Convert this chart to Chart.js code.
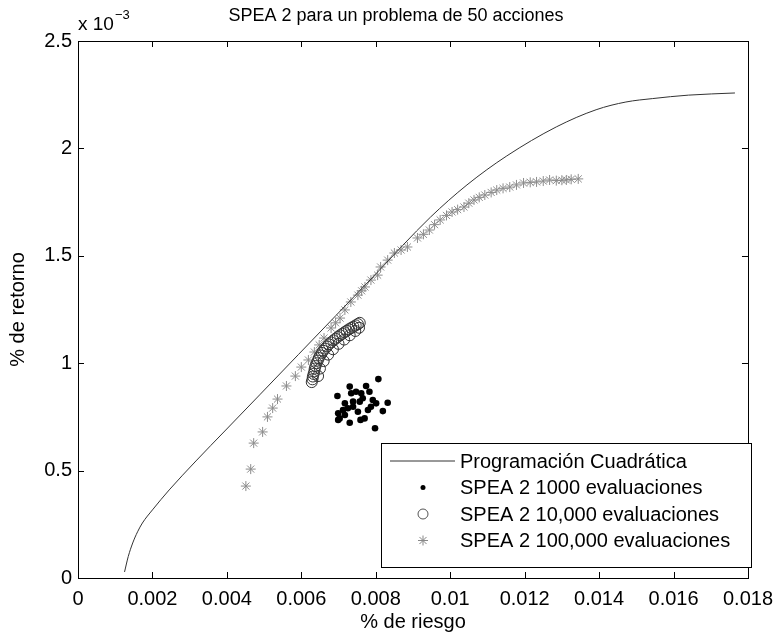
<!DOCTYPE html>
<html lang="es">
  <head>
    <meta charset="UTF-8">
    <title>SPEA 2</title>
    <script src="https://cdn.jsdelivr.net/npm/chart.js@4.4.0/dist/chart.umd.min.js"></script>
    <style>
      body { margin: 0; background: #fff; }
      #wrap { width: 782px; height: 637px; }
    </style>
  </head>
  <body>
<div id="wrap"><canvas id="spea"></canvas></div>
<script>
// y values are in units of 1e-3 (the axis shows "x 10^-3")
var xTicks = [0, 0.002, 0.004, 0.006, 0.008, 0.01, 0.012, 0.014, 0.016, 0.018];
var yTicks = [0, 0.5, 1, 1.5, 2, 2.5];

var legendLabels = [
  'Programación Cuadrática',
  'SPEA 2 1000 evaluaciones',
  'SPEA 2 10,000 evaluaciones',
  'SPEA 2 100,000 evaluaciones'
];

// frontera de programacion cuadratica
var quadX = [0.00125, 0.00135, 0.00147, 0.00160, 0.00173, 0.00200, 0.00245, 0.00317, 0.00397, 0.00490, 0.00592, 0.00693, 0.00797, 0.00947, 0.01045, 0.01152, 0.01285, 0.01392, 0.01472, 0.01544, 0.01640, 0.01765];
var quadY = [0.028, 0.100, 0.163, 0.215, 0.256, 0.317, 0.410, 0.545, 0.689, 0.856, 1.040, 1.222, 1.410, 1.680, 1.830, 1.965, 2.100, 2.180, 2.216, 2.232, 2.248, 2.258];

// SPEA 2, 1000 evaluaciones
var s1000X = [0.00697, 0.00730, 0.00734, 0.00747, 0.00761, 0.00774, 0.00783, 0.00807, 0.00792, 0.00801, 0.00832, 0.00819, 0.00717, 0.00725, 0.00739, 0.00752, 0.00779, 0.00699, 0.00703, 0.00699, 0.00730, 0.00759, 0.00770, 0.00798, 0.00739, 0.00757, 0.00712, 0.00717, 0.00787, 0.00765];
var s1000Y = [0.847, 0.891, 0.860, 0.867, 0.860, 0.894, 0.867, 0.926, 0.829, 0.813, 0.816, 0.777, 0.813, 0.790, 0.797, 0.774, 0.782, 0.767, 0.743, 0.736, 0.723, 0.736, 0.743, 0.697, 0.821, 0.821, 0.782, 0.759, 0.797, 0.837];

// SPEA 2, 10,000 evaluaciones
var s10kX = [0.00628, 0.00630, 0.00631, 0.00633, 0.00635, 0.00636, 0.00638, 0.00641, 0.00644, 0.00647, 0.00651, 0.00655, 0.00659, 0.00664, 0.00669, 0.00674, 0.00680, 0.00686, 0.00692, 0.00698, 0.00704, 0.00710, 0.00716, 0.00722, 0.00728, 0.00734, 0.00740, 0.00746, 0.00752, 0.00757, 0.00645, 0.00650, 0.00660, 0.00672, 0.00685, 0.00700, 0.00715, 0.00730, 0.00745, 0.00755];
var s10kY = [0.912, 0.925, 0.938, 0.950, 0.962, 0.975, 0.987, 1.000, 1.012, 1.024, 1.036, 1.048, 1.058, 1.068, 1.078, 1.088, 1.097, 1.106, 1.114, 1.122, 1.130, 1.137, 1.144, 1.151, 1.158, 1.164, 1.170, 1.176, 1.182, 1.188, 0.940, 0.975, 1.010, 1.040, 1.065, 1.090, 1.110, 1.130, 1.150, 1.165];

// SPEA 2, 100,000 evaluaciones
var s100kX = [0.00451, 0.00464, 0.00472, 0.00496, 0.00509, 0.00523, 0.00536, 0.00560, 0.00584, 0.00600, 0.00619, 0.00635, 0.00648, 0.00661, 0.00680, 0.00692, 0.00704, 0.00717, 0.00733, 0.00752, 0.00762, 0.00771, 0.00787, 0.00805, 0.00813, 0.00832, 0.00850, 0.00868, 0.00885, 0.00912, 0.00928, 0.00944, 0.00958, 0.00973, 0.00990, 0.01005, 0.01020, 0.01037, 0.01050, 0.01064, 0.01078, 0.01093, 0.01110, 0.01125, 0.01142, 0.01160, 0.01178, 0.01197, 0.01215, 0.01232, 0.01250, 0.01267, 0.01285, 0.01300, 0.01312, 0.01325, 0.01344];
var s100kY = [0.428, 0.507, 0.628, 0.680, 0.750, 0.791, 0.833, 0.894, 0.940, 0.982, 1.015, 1.052, 1.085, 1.117, 1.164, 1.188, 1.210, 1.248, 1.285, 1.317, 1.337, 1.355, 1.387, 1.410, 1.448, 1.480, 1.513, 1.527, 1.541, 1.583, 1.600, 1.620, 1.645, 1.667, 1.688, 1.704, 1.715, 1.727, 1.745, 1.760, 1.772, 1.783, 1.795, 1.806, 1.814, 1.820, 1.830, 1.839, 1.842, 1.844, 1.848, 1.853, 1.850, 1.852, 1.853, 1.856, 1.858];

function pts(xs, ys) {
  return xs.map(function(x, i) { return {x: x, y: ys[i]}; });
}

var FONT = "'Liberation Sans', Arial, sans-serif";

var styles = [
  {type: 'line', color: '#333'},
  {type: 'dot', color: '#000'},
  {type: 'circle', color: '#555'},
  {type: 'star', color: '#888'}
];

function drawMarker(ctx, kind, x, y) {
  ctx.save();
  if (kind.type == 'line') {
    ctx.strokeStyle = kind.color; ctx.lineWidth = 1;
    ctx.beginPath(); ctx.moveTo(x - 33, y); ctx.lineTo(x + 32, y); ctx.stroke();
  } else if (kind.type == 'dot') {
    ctx.fillStyle = kind.color;
    ctx.beginPath(); ctx.arc(x, y, 2.5, 0, Math.PI * 2); ctx.fill();
  } else if (kind.type == 'circle') {
    ctx.strokeStyle = kind.color; ctx.lineWidth = 1;
    ctx.beginPath(); ctx.arc(x, y, 5, 0, Math.PI * 2); ctx.stroke();
  } else {
    ctx.strokeStyle = kind.color; ctx.lineWidth = 1;
    var r = 5, d = r * 0.7071;
    ctx.beginPath();
    ctx.moveTo(x - r, y); ctx.lineTo(x + r, y);
    ctx.moveTo(x, y - r); ctx.lineTo(x, y + r);
    ctx.moveTo(x - d, y - d); ctx.lineTo(x + d, y + d);
    ctx.moveTo(x - d, y + d); ctx.lineTo(x + d, y - d);
    ctx.stroke();
  }
  ctx.restore();
}

// matlab style box, inward ticks, title, exponent and legend
var matlabBox = {
  id: 'matlabBox',
  afterDatasetsDraw: function(chart) {
    var ctx = chart.ctx, a = chart.chartArea;
    var xs = chart.scales.x, ys = chart.scales.y;
    ctx.save();
    ctx.strokeStyle = '#000';
    ctx.lineWidth = 1;
    ctx.strokeRect(Math.round(a.left) + 0.5, Math.round(a.top) + 0.5, Math.round(a.right - a.left), Math.round(a.bottom - a.top));
    var t = 6;
    ctx.beginPath();
    xTicks.forEach(function(v) {
      var px = Math.round(xs.getPixelForValue(v)) + 0.5;
      ctx.moveTo(px, a.bottom); ctx.lineTo(px, a.bottom - t);
      ctx.moveTo(px, a.top); ctx.lineTo(px, a.top + t);
    });
    yTicks.forEach(function(v) {
      var py = Math.round(ys.getPixelForValue(v)) + 0.5;
      ctx.moveTo(a.left, py); ctx.lineTo(a.left + t, py);
      ctx.moveTo(a.right, py); ctx.lineTo(a.right - t, py);
    });
    ctx.stroke();

    // title
    ctx.fillStyle = '#000';
    ctx.font = '18px ' + FONT;
    ctx.textAlign = 'center';
    ctx.textBaseline = 'alphabetic';
    ctx.fillText('SPEA 2 para un problema de 50 acciones', 396, 21);

    // exponent
    ctx.textAlign = 'left';
    ctx.font = '19px ' + FONT;
    ctx.fillText('x 10', a.left, 30);
    var w = ctx.measureText('x 10').width;
    ctx.font = '13px ' + FONT;
    ctx.fillText('\u22123', a.left + w + 1, 19);

    // legend box
    var bx = 381, by = 443, bw = 370, bh = 124;
    ctx.fillStyle = '#fff';
    ctx.fillRect(bx, by, bw, bh);
    ctx.strokeRect(bx + 0.5, by + 0.5, bw, bh);
    ctx.font = '20px ' + FONT;
    ctx.textBaseline = 'middle';
    legendLabels.forEach(function(label, i) {
      var ly = 461 + i * 26.5;
      drawMarker(ctx, styles[i], 423, ly);
      ctx.fillStyle = '#000';
      ctx.fillText(label, 460, ly + 1);
    });
    ctx.restore();
  }
};

var ctx = document.getElementById('spea').getContext('2d');
var chart = new Chart(ctx, {
  type: 'scatter',
  data: {
    datasets: [
      {
        label: legendLabels[0],
        data: pts(quadX, quadY),
        showLine: true,
        borderColor: '#333',
        borderWidth: 1,
        pointRadius: 0,
        cubicInterpolationMode: 'monotone',
        fill: false
      },
      {
        label: legendLabels[1],
        data: pts(s1000X, s1000Y),
        pointStyle: 'circle',
        pointRadius: 3.3,
        backgroundColor: '#000',
        borderColor: '#000',
        borderWidth: 0
      },
      {
        label: legendLabels[2],
        data: pts(s10kX, s10kY),
        pointStyle: 'circle',
        pointRadius: 5.5,
        backgroundColor: 'rgba(0,0,0,0)',
        borderColor: '#333',
        borderWidth: 1
      },
      {
        label: legendLabels[3],
        data: pts(s100kX, s100kY),
        pointStyle: 'star',
        pointRadius: 5,
        backgroundColor: 'rgba(0,0,0,0)',
        borderColor: '#8c8c8c',
        borderWidth: 1
      }
    ]
  },
  options: {
    responsive: true,
    maintainAspectRatio: false,
    animation: false,
    events: [],
    layout: { padding: { top: 41, right: 29, left: 0, bottom: 0 } },
    plugins: {
      legend: { display: false },
      tooltip: { enabled: false }
    },
    scales: {
      x: {
        type: 'linear',
        min: 0,
        max: 0.018,
        afterBuildTicks: function(s) { s.ticks = xTicks.map(function(v) { return {value: v}; }); },
        afterFit: function(s) { s.height = 59; },
        grid: { display: false, drawTicks: false },
        border: { display: false },
        ticks: {
          color: '#000',
          padding: 9,
          maxRotation: 0,
          autoSkip: false,
          font: { family: FONT, size: 20 },
          callback: function(v) { return String(Number(v.toFixed(4))); }
        },
        title: {
          display: true,
          text: '% de riesgo',
          color: '#000',
          font: { family: FONT, size: 20 },
          padding: { top: 0, bottom: 3 }
        }
      },
      y: {
        type: 'linear',
        min: 0,
        max: 2.5,
        afterBuildTicks: function(s) { s.ticks = yTicks.map(function(v) { return {value: v}; }); },
        afterFit: function(s) { s.width = 78; },
        grid: { display: false, drawTicks: false },
        border: { display: false },
        ticks: {
          color: '#000',
          padding: 6,
          autoSkip: false,
          font: { family: FONT, size: 20 },
          callback: function(v) { return String(Number(v.toFixed(2))); }
        },
        title: {
          display: true,
          text: '% de retorno',
          color: '#000',
          font: { family: FONT, size: 20 },
          padding: { top: 6, bottom: 0 }
        }
      }
    }
  },
  plugins: [matlabBox]
});
</script>
  </body>
</html>
